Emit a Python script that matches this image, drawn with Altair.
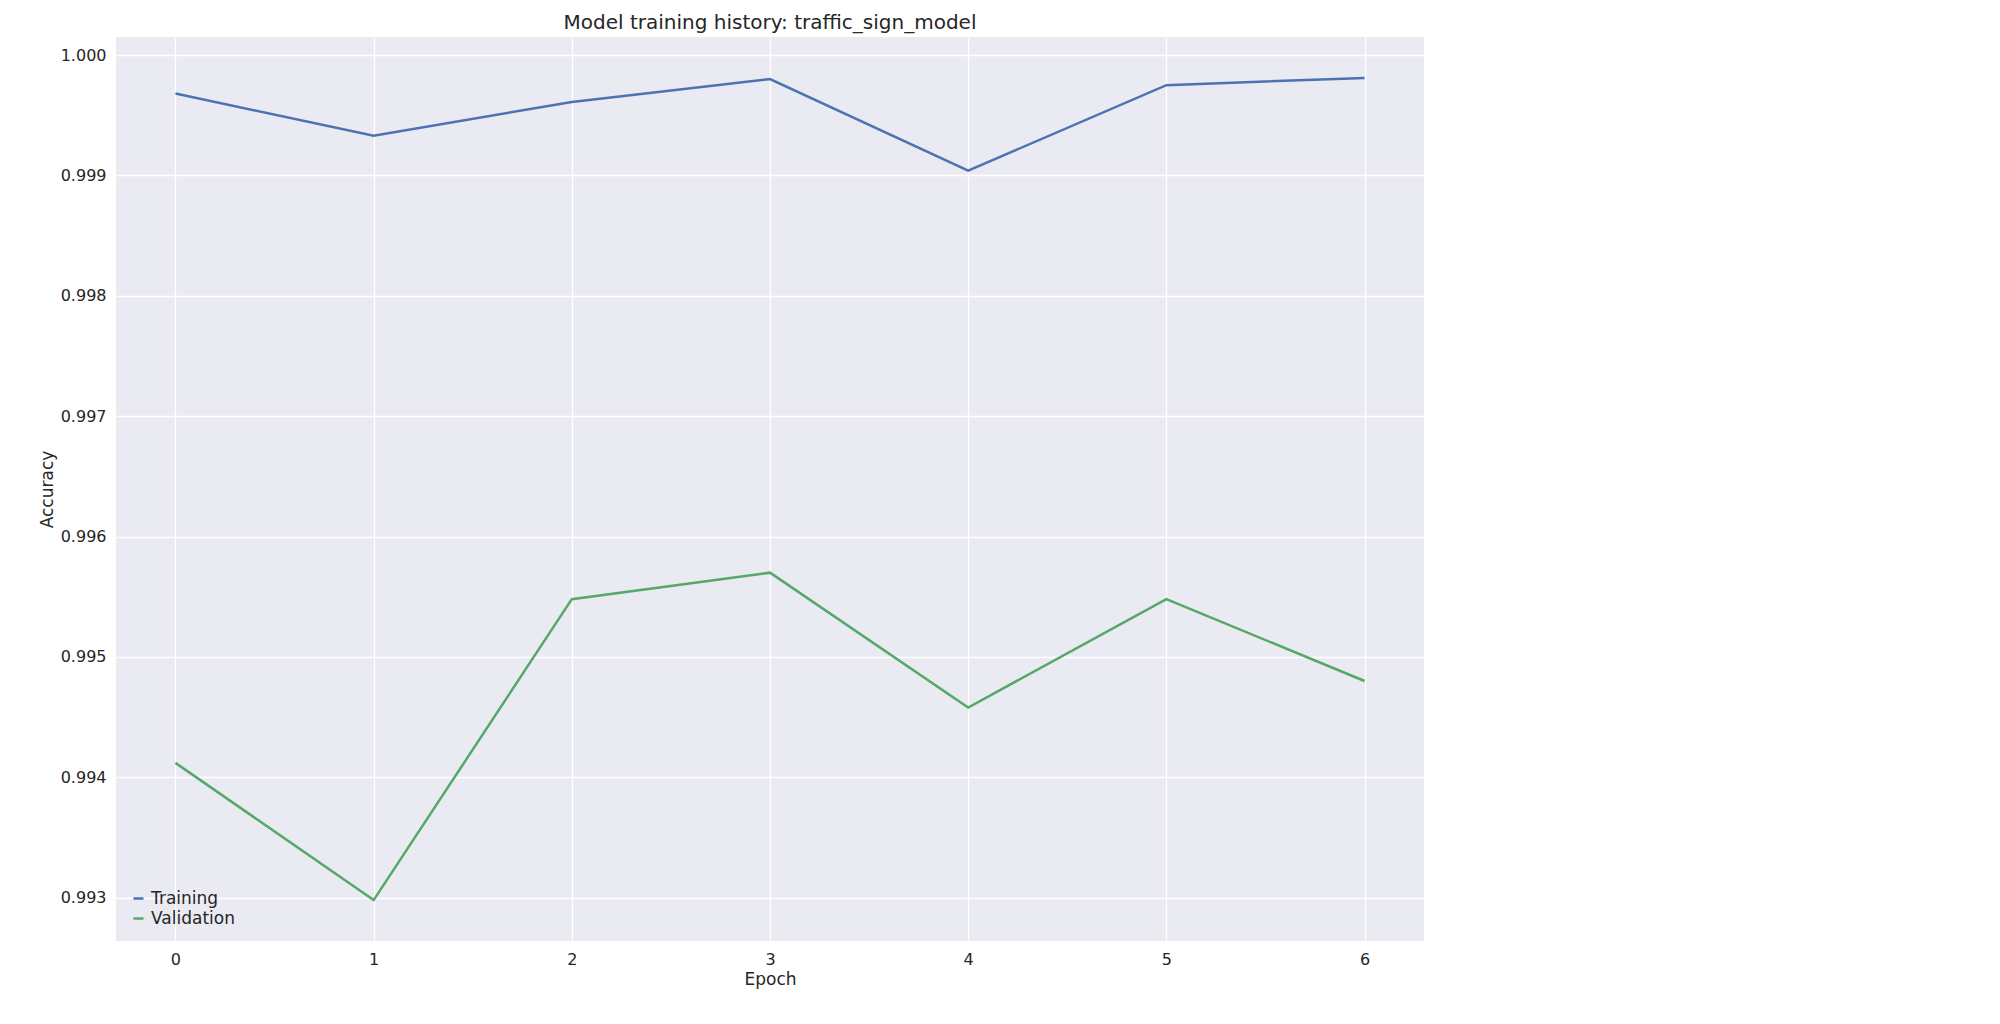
import pandas as pd
import altair as alt

epochs = [0, 1, 2, 3, 4, 5, 6]
training = [0.99968, 0.99933, 0.99961, 0.99980, 0.99904, 0.99975, 0.99981]
validation = [0.99412, 0.99298, 0.99548, 0.99570, 0.99458, 0.99548, 0.99480]

df = pd.concat([
    pd.DataFrame({'epoch': epochs, 'accuracy': training, 'series': 'Training'}),
    pd.DataFrame({'epoch': epochs, 'accuracy': validation, 'series': 'Validation'}),
])

font = 'DejaVu Sans'

chart = alt.Chart(df).mark_line(strokeWidth=2.5, clip=True).encode(
    x=alt.X(
        'epoch:Q',
        scale=alt.Scale(domain=[-0.3, 6.3], nice=False, zero=False),
        axis=alt.Axis(title='Epoch', values=epochs, format='d', tickSize=0, labelPadding=10)
    ),
    y=alt.Y(
        'accuracy:Q',
        scale=alt.Scale(domain=[0.99264, 1.00015], nice=False, zero=False),
        axis=alt.Axis(title='Accuracy', format='.3f', tickSize=0, labelPadding=10,
                      values=[0.993, 0.994, 0.995, 0.996, 0.997, 0.998, 0.999, 1.000])
    ),
    color=alt.Color(
        'series:N',
        scale=alt.Scale(domain=['Training', 'Validation'], range=['#4C72B0', '#55A868']),
        legend=alt.Legend(title=None, orient='bottom-left', symbolType='stroke',
                          symbolStrokeWidth=2.5, labelFontSize=17, labelFont=font,
                          labelColor='#262626', padding=6, offset=8)
    )
).properties(
    width=1308,
    height=904,
    title=alt.TitleParams('Model training history: traffic_sign_model', fontSize=20,
                          font=font, fontWeight='normal', color='#262626'),
    padding={'left': 30, 'top': 5, 'right': 5, 'bottom': 5}
).configure_view(
    fill='#EAEAF2', stroke=None
).configure_axis(
    grid=True, gridColor='white', gridWidth=1.3, domain=False,
    labelFont=font, labelFontSize=16, labelColor='#262626',
    titleFont=font, titleFontSize=17, titleFontWeight='normal', titleColor='#262626'
)

chart.save("out.html", embed_options={"renderer": "svg", "actions": False})
